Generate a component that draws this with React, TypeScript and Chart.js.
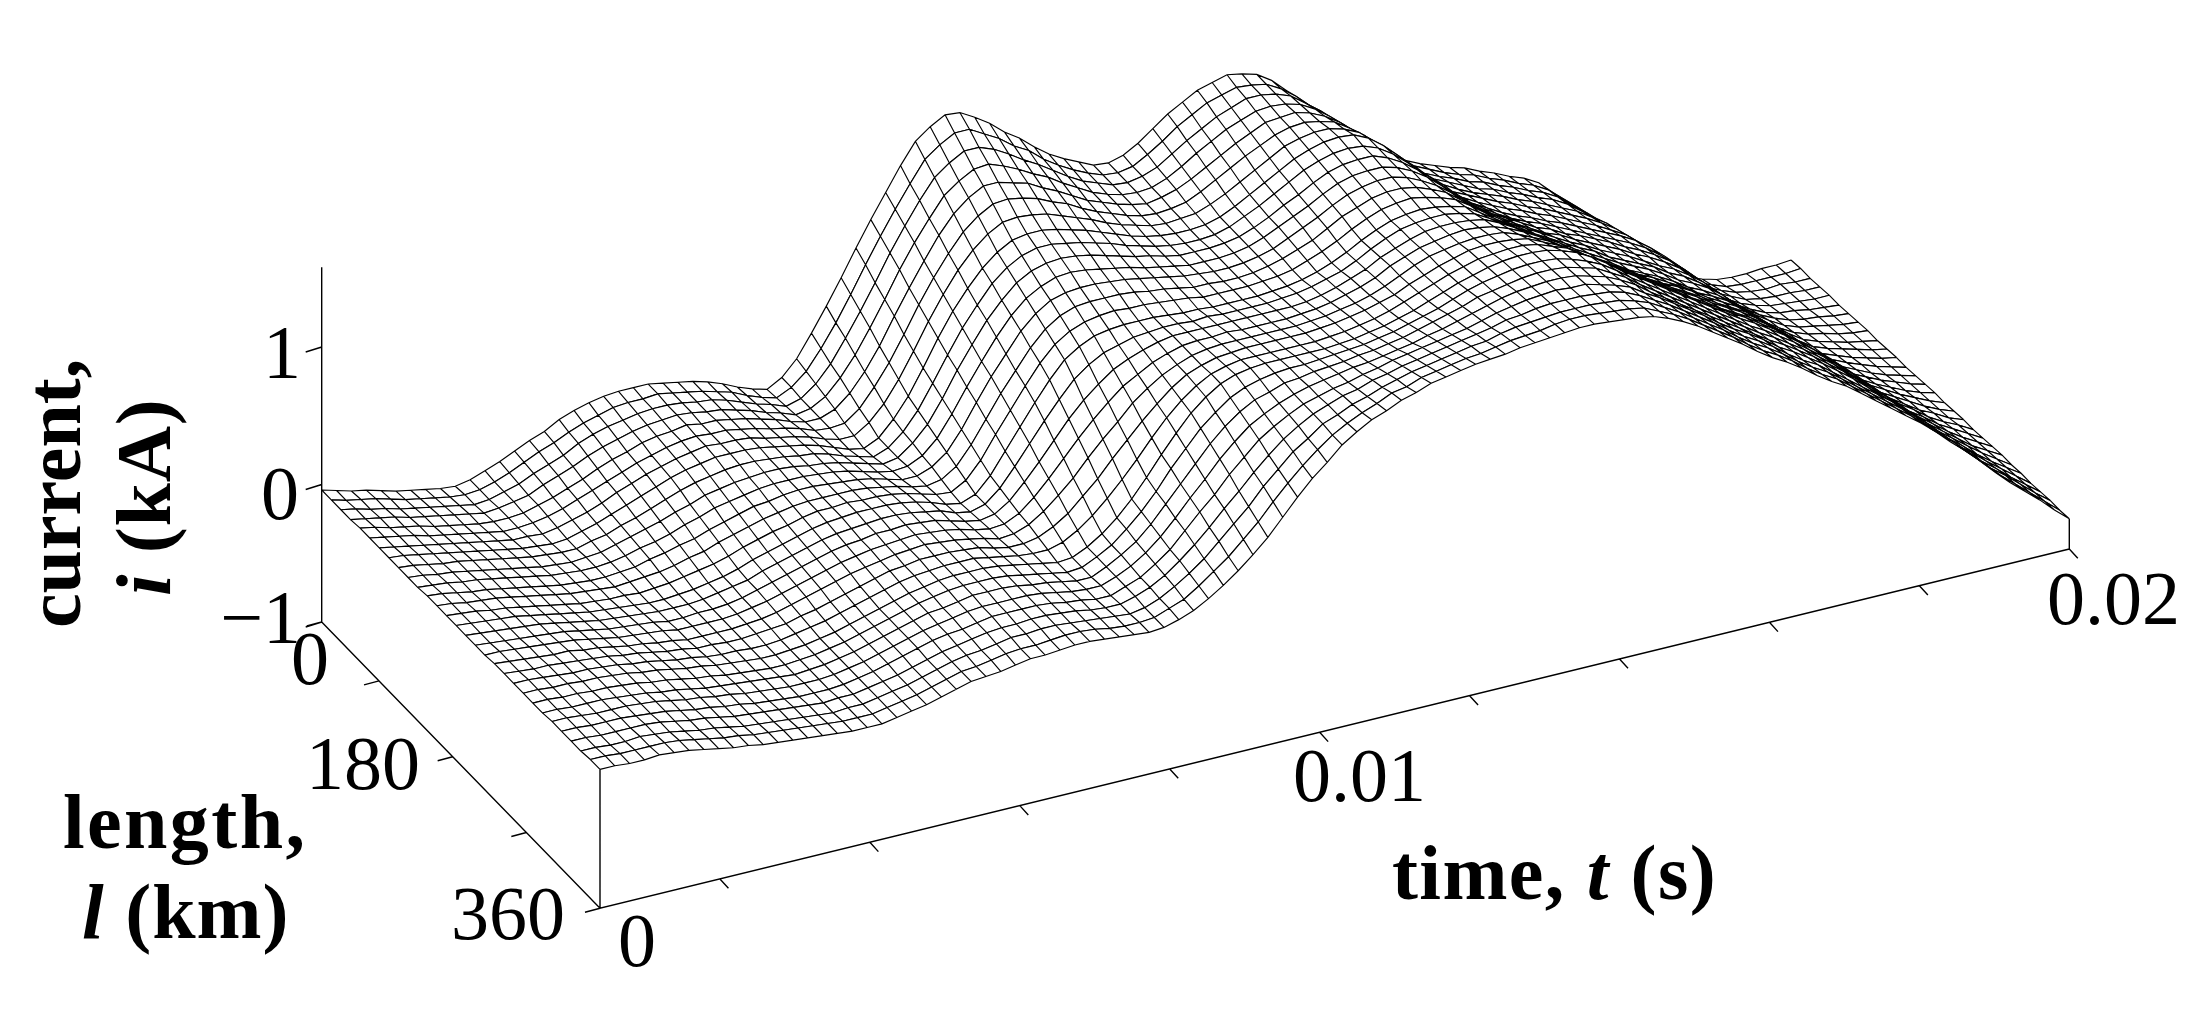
import React, { useEffect, useRef } from "react";
import Chart from "chart.js/auto";

// current in hundredths of a kA, one line per time sample, back row (l small) to front row (l = 360)
const currentByTime = [
  [-4,-4,-4,-4,-3,-3,-3,-3,-3,-3,-3,-2,-2,-2,-2,-2,-2,-2,-1,-1,-1,-1,-1,-1,0,0,0,0,1,1],
  [-7,-7,-6,-6,-5,-5,-5,-4,-4,-4,-4,-3,-3,-3,-3,-3,-3,-2,-2,-2,-1,-1,-1,-1,0,0,0,0,1,1],
  [-10,-9,-9,-8,-8,-7,-7,-6,-6,-6,-5,-5,-5,-4,-4,-4,-4,-3,-3,-3,-2,-2,-2,-2,-1,-1,-1,-1,0,0],
  [-12,-11,-11,-10,-10,-9,-9,-8,-8,-7,-7,-7,-6,-6,-5,-5,-5,-4,-4,-3,-3,-2,-2,-2,-2,-1,-1,-1,0,0],
  [-15,-14,-14,-13,-12,-12,-11,-10,-9,-9,-8,-8,-7,-7,-6,-6,-6,-5,-5,-4,-4,-3,-3,-2,-2,-1,-1,0,0,1],
  [-18,-17,-16,-15,-15,-14,-13,-12,-11,-11,-10,-10,-9,-9,-8,-7,-7,-6,-5,-5,-4,-3,-3,-3,-2,-2,-1,-1,0,0],
  [-20,-19,-18,-17,-17,-16,-15,-14,-13,-13,-12,-12,-11,-11,-10,-9,-8,-7,-7,-6,-5,-4,-4,-4,-3,-3,-2,-2,-1,-1],
  [-22,-21,-20,-19,-19,-18,-17,-16,-15,-15,-14,-14,-13,-13,-12,-11,-10,-9,-8,-7,-6,-5,-5,-5,-4,-4,-4,-4,-3,-3],
  [-24,-23,-22,-21,-21,-20,-19,-18,-17,-17,-16,-16,-15,-15,-14,-13,-12,-11,-10,-9,-8,-7,-7,-7,-6,-6,-6,-6,-5,-5],
  [-25,-24,-24,-23,-22,-22,-21,-20,-19,-19,-18,-18,-17,-17,-16,-15,-14,-13,-12,-10,-9,-8,-8,-8,-8,-8,-7,-7,-7,-7],
  [-23,-23,-23,-22,-22,-22,-21,-21,-20,-20,-19,-19,-18,-18,-17,-16,-15,-14,-13,-12,-11,-10,-10,-10,-9,-9,-9,-9,-8,-8],
  [-19,-20,-20,-20,-21,-21,-22,-22,-21,-21,-20,-20,-19,-19,-18,-17,-16,-15,-15,-14,-13,-12,-12,-12,-11,-11,-11,-11,-10,-10],
  [-15,-16,-17,-18,-18,-19,-20,-21,-21,-20,-20,-20,-20,-19,-19,-18,-17,-16,-16,-15,-14,-13,-13,-13,-12,-12,-12,-12,-11,-11],
  [-10,-11,-12,-13,-15,-16,-17,-18,-18,-19,-19,-19,-19,-20,-20,-19,-19,-18,-18,-17,-16,-15,-15,-14,-14,-14,-13,-13,-12,-12],
  [-5,-6,-8,-9,-11,-12,-14,-15,-16,-16,-17,-18,-18,-19,-20,-19,-19,-18,-18,-17,-17,-16,-16,-15,-15,-15,-14,-14,-13,-13],
  [-1,-2,-4,-5,-7,-8,-10,-11,-12,-13,-14,-15,-17,-18,-19,-19,-18,-18,-18,-18,-17,-17,-17,-16,-16,-16,-15,-15,-14,-14],
  [5,3,2,0,-2,-4,-5,-7,-9,-10,-12,-13,-15,-16,-18,-18,-18,-18,-18,-18,-18,-18,-18,-17,-17,-17,-16,-16,-15,-15],
  [9,7,6,4,2,0,-1,-3,-5,-7,-9,-10,-12,-14,-16,-16,-17,-17,-17,-17,-18,-18,-18,-18,-17,-17,-17,-17,-16,-16],
  [12,10,9,7,5,4,3,1,-1,-3,-5,-8,-10,-12,-14,-14,-15,-15,-16,-16,-17,-17,-17,-17,-17,-17,-16,-16,-16,-16],
  [14,13,11,10,9,7,6,5,3,0,-2,-4,-6,-9,-11,-12,-12,-13,-14,-15,-15,-16,-16,-16,-16,-16,-16,-16,-16,-16],
  [15,14,13,12,11,10,9,8,6,4,2,-1,-3,-5,-7,-8,-9,-10,-11,-12,-13,-14,-14,-14,-14,-14,-14,-14,-14,-14],
  [15,14,14,13,12,12,11,10,8,6,4,2,0,-2,-4,-5,-6,-7,-8,-10,-11,-12,-12,-12,-12,-12,-12,-12,-12,-12],
  [15,15,14,14,14,13,13,12,10,8,6,5,3,1,-1,-2,-3,-4,-5,-7,-8,-9,-9,-9,-9,-9,-10,-10,-10,-10],
  [13,13,13,13,12,12,12,12,11,9,8,6,5,3,2,1,0,-1,-2,-4,-5,-6,-6,-6,-6,-6,-7,-7,-7,-7],
  [11,11,11,11,12,12,12,12,11,10,9,8,7,6,5,4,3,2,1,-1,-2,-3,-3,-3,-3,-3,-4,-4,-4,-4],
  [9,9,10,10,10,10,11,11,10,10,9,9,8,8,7,6,5,4,3,2,1,0,0,0,0,0,-1,-1,-1,-1],
  [6,6,7,7,8,8,8,9,9,9,9,9,8,8,8,7,6,6,5,5,4,3,3,3,2,2,1,1,0,0],
  [2,3,3,4,5,5,6,7,7,7,8,8,8,9,9,8,8,7,7,6,6,5,5,4,4,3,3,2,2,1],
  [-3,-2,-1,0,2,3,4,5,6,6,7,7,8,8,9,9,8,8,8,8,7,7,7,6,6,5,5,4,4,3],
  [-7,-6,-4,-3,-2,0,1,2,3,4,5,6,7,8,9,9,9,9,9,8,8,8,8,8,7,7,6,6,5,5],
  [-10,-9,-8,-7,-5,-4,-3,-2,-1,1,2,4,5,7,8,8,8,8,8,8,8,8,8,8,7,7,6,6,5,5],
  [-4,-4,-5,-5,-5,-5,-6,-6,-4,-2,-1,1,3,5,6,6,7,7,7,7,8,8,8,8,7,7,7,7,6,6],
  [7,5,3,1,-1,-4,-6,-8,-7,-5,-3,-2,0,2,3,4,4,5,5,6,6,7,7,7,7,7,7,7,7,7],
  [23,19,15,12,8,4,1,-3,-3,-3,-2,-2,-2,-1,-1,0,1,2,3,3,4,5,5,5,6,6,6,6,7,7],
  [40,35,31,26,21,17,12,8,6,5,3,2,0,-2,-3,-2,-1,0,0,1,2,3,3,4,4,4,5,5,6,6],
  [58,53,48,43,37,32,27,22,19,16,13,10,7,4,1,1,1,1,1,1,1,1,1,2,2,3,3,4,4,5],
  [77,72,66,61,56,50,45,40,36,32,28,24,20,16,12,10,8,6,5,3,1,-1,-1,0,1,1,2,3,3,4],
  [95,90,85,80,74,69,64,59,54,50,45,41,36,32,27,23,19,15,12,8,4,0,0,0,1,1,2,2,3,3],
  [112,107,102,97,91,86,81,76,71,66,61,57,52,47,42,37,31,26,21,15,10,5,5,5,5,5,5,4,4,4],
  [129,123,118,112,107,101,96,90,85,81,76,71,66,62,57,51,44,38,31,25,18,12,11,11,10,9,9,8,8,7],
  [144,138,132,126,120,114,108,102,98,93,89,85,80,76,71,64,57,50,43,35,28,21,20,18,17,16,15,14,12,11],
  [152,146,140,134,129,123,117,111,107,103,99,95,91,87,83,76,68,61,54,47,39,32,30,28,26,24,23,21,19,17],
  [158,152,146,140,135,129,123,117,113,109,105,102,98,94,90,84,77,71,64,58,51,45,42,40,37,35,32,29,27,24],
  [157,152,146,141,135,130,124,119,116,112,109,105,102,98,95,90,85,80,75,69,64,59,56,52,49,46,42,39,35,32],
  [151,146,142,137,132,128,123,119,116,113,110,106,103,100,97,93,90,86,83,79,76,72,68,64,60,56,53,49,45,41],
  [144,140,136,132,129,125,121,117,114,112,109,106,103,101,98,96,94,92,90,88,86,84,80,76,72,68,63,59,55,51],
  [135,132,129,126,123,120,117,114,112,110,107,105,103,100,98,97,97,96,95,95,94,93,89,86,82,78,74,71,67,63],
  [128,126,123,121,118,116,113,111,109,107,105,104,102,100,98,98,99,99,99,99,100,100,97,94,91,88,84,81,78,75],
  [119,117,116,114,112,110,109,107,106,104,103,102,100,99,97,98,99,100,101,102,103,104,102,100,97,95,93,91,88,86],
  [111,110,109,108,106,105,104,103,102,101,100,100,99,98,96,97,99,100,102,103,105,106,105,103,102,101,100,98,97,95],
  [105,104,103,102,102,101,100,99,99,99,98,98,97,97,96,98,99,101,102,104,105,107,107,107,106,106,106,106,105,105],
  [100,99,99,98,98,97,97,96,96,96,96,96,95,95,95,97,99,100,102,104,105,107,108,108,109,109,110,110,111,112],
  [95,95,95,95,95,94,94,94,94,94,94,95,95,95,95,97,99,100,102,104,105,107,108,110,111,112,114,115,116,118],
  [94,94,94,94,93,93,93,93,93,94,94,94,94,95,95,97,99,100,102,104,105,107,109,111,113,114,116,118,120,122],
  [97,96,96,95,95,94,94,93,93,94,94,94,94,95,95,97,99,100,102,104,105,107,110,112,115,117,120,122,125,127],
  [103,102,100,99,98,96,95,94,94,95,95,95,95,96,96,98,99,101,103,105,106,108,111,114,116,119,122,125,127,130],
  [111,109,107,105,103,101,99,97,97,97,97,97,97,97,97,99,100,102,104,106,107,109,112,115,118,122,125,128,131,134],
  [119,117,114,112,109,107,104,102,102,101,101,100,100,99,99,101,102,104,106,108,109,111,114,117,120,124,127,130,133,136],
  [125,123,120,118,115,113,110,108,107,106,106,105,104,103,102,104,105,107,108,110,111,113,116,119,122,126,129,132,135,138],
  [131,129,126,124,121,119,116,114,113,112,111,110,108,107,106,107,109,110,111,113,114,116,119,122,125,128,131,134,137,140],
  [134,132,130,128,126,124,122,120,119,117,116,115,114,112,111,112,113,114,115,116,118,119,122,125,127,130,133,136,138,141],
  [137,135,134,132,131,129,128,126,125,123,122,121,120,118,117,118,119,120,120,121,122,123,125,128,130,132,135,137,140,142],
  [135,134,134,133,132,132,131,130,129,128,127,126,124,123,122,123,123,124,125,125,126,127,129,131,133,135,137,140,142,144],
  [132,132,132,132,133,133,133,133,132,131,130,129,128,127,126,127,127,128,129,129,130,131,133,135,136,138,140,142,143,145],
  [125,126,128,129,130,131,133,134,133,132,131,131,130,129,128,129,130,130,131,132,133,134,136,137,139,140,141,143,144,146],
  [115,118,120,123,125,128,130,133,132,132,131,131,130,130,129,130,131,132,133,135,136,137,138,139,141,142,143,144,146,147],
  [105,108,112,115,118,121,125,128,128,128,128,128,128,128,128,130,131,133,134,136,137,139,140,141,142,143,144,145,147,148],
  [95,99,102,106,109,113,116,120,121,122,123,123,124,125,126,128,130,132,134,136,138,140,141,142,143,144,144,145,147,148],
  [84,88,91,95,99,103,106,110,112,114,116,117,119,121,123,125,128,130,133,135,138,140,141,142,143,143,144,145,146,147],
  [73,77,81,85,88,92,96,100,102,105,107,109,111,114,116,119,123,126,129,133,136,139,140,141,142,143,143,144,145,146],
  [62,66,70,74,77,81,85,89,92,95,98,100,103,106,109,113,117,121,124,128,132,136,137,138,139,140,142,143,144,145],
  [54,57,61,64,68,71,75,78,81,85,88,92,95,99,102,106,111,115,119,123,128,132,133,135,136,137,139,140,142,143],
  [48,51,54,57,60,63,66,69,73,76,80,83,87,90,94,99,103,108,112,117,121,126,128,129,131,133,134,136,137,139],
  [43,46,48,51,54,56,59,62,66,69,73,76,80,83,87,92,96,101,105,110,114,119,121,123,125,126,128,130,132,134],
  [38,41,43,46,48,51,53,56,59,63,66,70,73,77,80,84,89,93,98,102,107,111,113,115,117,120,122,124,126,128],
  [34,36,39,41,43,46,48,50,53,57,60,64,67,71,74,78,83,87,91,96,100,104,106,108,110,113,115,117,119,121],
  [30,32,34,36,39,41,43,45,48,51,54,58,61,64,67,71,76,80,84,89,93,97,99,101,103,106,108,110,112,114],
  [27,29,31,33,35,37,39,41,44,47,50,52,55,58,61,65,69,73,77,82,86,90,92,94,96,99,101,103,105,107],
  [22,24,26,28,30,32,34,36,39,41,44,47,50,52,55,59,63,67,71,75,79,83,85,87,89,91,93,95,97,99],
  [18,20,22,24,26,28,30,32,34,37,39,41,43,46,48,52,56,60,64,68,72,76,78,80,82,84,86,88,90,92],
  [13,15,17,19,21,23,25,27,29,32,34,36,38,41,43,47,50,54,58,61,65,69,71,73,75,78,80,82,84,86],
  [9,11,13,15,16,18,20,22,24,27,29,31,33,36,38,41,45,48,52,55,59,62,64,66,68,71,73,75,77,79],
  [3,5,7,9,11,13,15,17,19,21,23,25,28,30,32,35,39,42,45,48,52,55,57,59,61,63,65,67,69,71],
  [-7,-4,-2,1,4,7,9,12,14,16,18,19,21,23,25,28,32,35,39,42,46,49,51,53,55,57,58,60,62,64],
  [-16,-13,-10,-7,-3,0,3,6,8,10,12,14,16,18,20,23,26,29,33,36,39,42,44,46,48,50,52,54,56,58],
  [-27,-23,-20,-16,-13,-9,-6,-2,0,3,5,7,9,12,14,17,20,23,26,29,32,35,37,39,41,43,44,46,48,50],
  [-37,-33,-30,-26,-22,-18,-15,-11,-9,-6,-4,-1,1,4,6,9,12,15,18,21,24,27,29,31,33,35,36,38,40,42],
  [-47,-43,-40,-36,-32,-28,-25,-21,-19,-16,-14,-11,-9,-6,-4,-1,3,6,9,12,16,19,21,23,25,27,28,30,32,34],
  [-56,-52,-49,-45,-42,-38,-35,-31,-29,-26,-24,-21,-19,-16,-14,-11,-7,-4,0,3,7,10,12,14,16,18,20,22,24,26],
  [-63,-60,-57,-54,-50,-47,-44,-41,-39,-36,-34,-31,-29,-26,-24,-20,-17,-13,-10,-6,-3,1,3,5,7,9,12,14,16,18],
  [-73,-70,-67,-64,-60,-57,-54,-51,-49,-46,-44,-41,-39,-36,-34,-30,-27,-23,-20,-16,-13,-9,-7,-5,-2,0,2,5,7,9],
  [-83,-80,-76,-73,-70,-67,-63,-60,-58,-56,-53,-51,-49,-46,-44,-40,-37,-33,-30,-26,-23,-19,-17,-15,-12,-10,-8,-6,-3,-1],
  [-92,-89,-85,-82,-79,-76,-72,-69,-67,-64,-62,-60,-58,-55,-53,-50,-46,-43,-40,-36,-33,-29,-27,-24,-22,-19,-17,-15,-12,-10],
  [-96,-93,-90,-87,-85,-82,-79,-76,-74,-71,-69,-67,-65,-62,-60,-57,-54,-51,-48,-45,-42,-39,-37,-34,-32,-29,-27,-25,-22,-20],
  [-99,-97,-94,-92,-89,-87,-84,-82,-80,-78,-76,-74,-71,-69,-67,-64,-61,-59,-56,-53,-51,-48,-46,-44,-42,-40,-37,-35,-33,-31],
  [-100,-98,-96,-94,-92,-90,-88,-86,-84,-82,-80,-78,-76,-74,-72,-70,-67,-65,-63,-60,-58,-56,-54,-52,-50,-48,-47,-45,-43,-41],
  [-100,-98,-97,-95,-93,-91,-90,-88,-86,-85,-83,-82,-80,-79,-77,-75,-73,-71,-70,-68,-66,-64,-62,-60,-59,-57,-55,-53,-52,-50],
  [-99,-98,-96,-95,-94,-93,-91,-90,-89,-88,-86,-85,-84,-83,-81,-80,-78,-77,-75,-74,-72,-71,-70,-68,-67,-65,-64,-62,-61,-59],
  [-99,-98,-97,-96,-95,-94,-93,-92,-91,-90,-89,-88,-87,-86,-85,-84,-83,-82,-81,-79,-78,-77,-76,-75,-74,-73,-72,-71,-70,-69],
  [-98,-97,-97,-96,-95,-95,-94,-93,-92,-92,-91,-90,-90,-89,-88,-87,-87,-86,-85,-85,-84,-83,-82,-82,-81,-81,-80,-79,-79,-78],
];
const currentTicks = [-1, 0, 1];
const lengthTicks = [20, 90, 180, 270, 360];
const timeTicks = [0.002, 0.004, 0.006, 0.008, 0.01, 0.012, 0.014, 0.016, 0.018, 0.02];

const TIME_MIN = 0.0004;
const TIME_MAX = 0.02;
const LENGTH_MIN = 20;
const LENGTH_MAX = 360;
const columnCount = currentByTime.length - 1;
const rowCount = currentByTime[0].length - 1;

// view of the box: where its three edges run on the page
const project = (t: number, l: number, i: number) => {
  const tf = (t - TIME_MIN) / (TIME_MAX - TIME_MIN);
  const lf = (l - LENGTH_MIN) / (LENGTH_MAX - LENGTH_MIN);
  return { x: 321.7 + 1469.3 * tf + 278.3 * lf, y: 622 - 359.3 * tf + 286.3 * lf - 137.5 * (i + 1) };
};
const node = (c: number, r: number) =>
  project(
    TIME_MIN + ((TIME_MAX - TIME_MIN) * c) / columnCount,
    LENGTH_MIN + ((LENGTH_MAX - LENGTH_MIN) * r) / rowCount,
    currentByTime[c][r] / 100
  );
const GAP = { x: NaN, y: NaN };

const buildDatasets = () => {
  const sets: any[] = [];
  const ink = (data: any[], width: number) => ({
    data, showLine: true, fill: false, borderColor: "#000000", borderWidth: width, pointRadius: 0, clip: false,
  });
  // axes first so the surface lies over them
  const axes: any[] = [];
  axes.push(project(TIME_MIN, LENGTH_MIN, -1), project(TIME_MIN, LENGTH_MIN, 1.58), GAP);
  axes.push(project(TIME_MIN, LENGTH_MIN, -1), project(TIME_MIN, LENGTH_MAX, -1), project(TIME_MAX, LENGTH_MAX, -1), GAP);
  axes.push(project(TIME_MIN, LENGTH_MAX, -1), project(TIME_MIN, LENGTH_MAX, 0.01), GAP);
  axes.push(project(TIME_MAX, LENGTH_MAX, -1), project(TIME_MAX, LENGTH_MAX, -0.78), GAP);
  currentTicks.forEach((v) => {
    const p = project(TIME_MIN, LENGTH_MIN, v);
    axes.push(p, { x: p.x - 16, y: p.y + 5 }, GAP);
  });
  lengthTicks.forEach((v) => {
    const p = project(TIME_MIN, v, -1);
    axes.push(p, { x: p.x - 15, y: p.y + 4 }, GAP);
  });
  timeTicks.forEach((v) => {
    const p = project(v, LENGTH_MAX, -1);
    axes.push(p, { x: p.x + 8.5, y: p.y + 9.3 }, GAP);
  });
  sets.push(ink(axes, 1.4));

  // one strip per pair of rows, back to front: white fill first, then its lines
  for (let r = 0; r < rowCount; r++) {
    const back = currentByTime.map((_, c) => node(c, r));
    const front = currentByTime.map((_, c) => node(c, r + 1));
    sets.push({
      data: [...back, ...[...front].reverse()],
      showLine: true, fill: "shape", backgroundColor: "#ffffff", borderColor: "rgba(0,0,0,0)", borderWidth: 1, pointRadius: 0, clip: false,
    });
    const lines: any[] = [...back, GAP, ...front, GAP];
    back.forEach((p, c) => lines.push(p, front[c], GAP));
    sets.push(ink(lines, 1.15));
  }
  return sets.reverse();
};

type Run = { text: string; italic?: boolean };
const labels = [
  { x: 301, y: 358, text: "1" }, { x: 299, y: 499, text: "0" }, { x: 301, y: 623, text: "\u22121" },
  { x: 329, y: 664, text: "0" }, { x: 420, y: 769, text: "180" }, { x: 565, y: 919, text: "360" },
  { x: 656, y: 946, text: "0" }, { x: 1426, y: 781, text: "0.01" }, { x: 2180, y: 604, text: "0.02" },
];
const titles: { x: number; y: number; rotate?: boolean; spacing: number; runs: Run[] }[] = [
  { x: 1392, y: 899, spacing: 1.4, runs: [{ text: "time, " }, { text: "t", italic: true }, { text: " (s)" }] },
  { x: 63, y: 848, spacing: 2.4, runs: [{ text: "length," }] },
  { x: 82, y: 938, spacing: 1, runs: [{ text: "l", italic: true }, { text: " (km)" }] },
  { x: 80, y: 628, rotate: true, spacing: 0, runs: [{ text: "current," }] },
  { x: 170, y: 596, rotate: true, spacing: 0.8, runs: [{ text: "i", italic: true }, { text: " (kA)" }] },
];

const textPlugin = {
  id: "boxText",
  afterDraw(chart: any) {
    const { ctx, scales } = chart;
    ctx.save();
    ctx.fillStyle = "#000";
    ctx.textBaseline = "middle";
    ctx.textAlign = "right";
    ctx.font = '76px "Liberation Serif"';
    labels.forEach((l) => ctx.fillText(l.text, scales.x.getPixelForValue(l.x), scales.y.getPixelForValue(l.y)));
    ctx.textBaseline = "alphabetic";
    ctx.textAlign = "left";
    titles.forEach((t) => {
      ctx.save();
      ctx.translate(scales.x.getPixelForValue(t.x), scales.y.getPixelForValue(t.y));
      if (t.rotate) ctx.rotate(-Math.PI / 2);
      ctx.letterSpacing = `${t.spacing}px`;
      let cursor = 0;
      t.runs.forEach((run) => {
        ctx.font = `${run.italic ? "italic " : ""}bold 78px "Liberation Serif"`;
        ctx.fillText(run.text, cursor, 0);
        cursor += ctx.measureText(run.text).width;
      });
      ctx.restore();
    });
    ctx.restore();
  },
};

const App: React.FC = () => {
  const chartRef = useRef<HTMLCanvasElement | null>(null);

  useEffect(() => {
    document.body.style.margin = "0";
    if (!chartRef.current) return;
    const chart = new Chart(chartRef.current, {
      type: "scatter",
      data: { datasets: buildDatasets() },
      options: {
        animation: false,
        responsive: false,
        devicePixelRatio: 1,
        layout: { padding: 0 },
        plugins: { legend: { display: false }, tooltip: { enabled: false }, title: { display: false } },
        scales: {
          x: { type: "linear", display: false, min: 0, max: 2210 },
          y: { type: "linear", display: false, min: 0, max: 1030, reverse: true },
        },
      },
      plugins: [textPlugin],
    } as any);
    return () => chart.destroy();
  }, []);

  return <canvas ref={chartRef} width={2210} height={1030} style={{ display: "block" }}></canvas>;
};

export default App;
